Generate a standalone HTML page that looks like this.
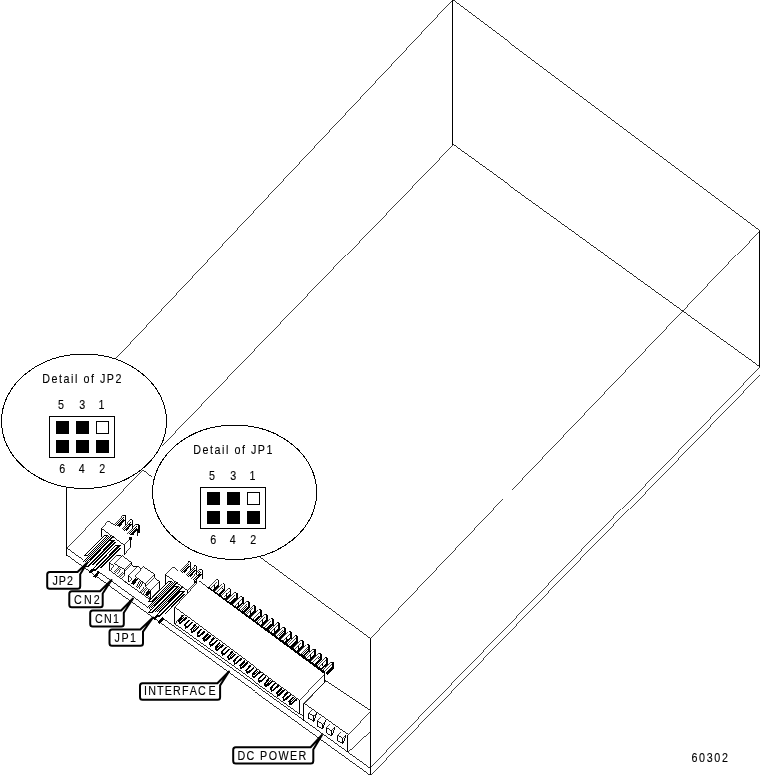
<!DOCTYPE html>
<html><head><meta charset="utf-8">
<style>
html,body{margin:0;padding:0;background:#fff;}
body{width:761px;height:775px;overflow:hidden;position:relative;font-family:"Liberation Sans",sans-serif;}
svg{position:absolute;left:0;top:0;will-change:transform;}
.l{stroke:#000;stroke-width:1;fill:none;shape-rendering:crispEdges;}
.l2{stroke:#000;stroke-width:2;fill:none;shape-rendering:crispEdges;}
.t{stroke:#000;stroke-width:1.6;fill:none;shape-rendering:crispEdges;}
.f{fill:#fff;stroke:#000;stroke-width:1;shape-rendering:crispEdges;}
.w{fill:#fff;stroke:none;shape-rendering:crispEdges;}
.k{fill:#000;stroke:none;shape-rendering:crispEdges;}
.d{fill:url(#dz);stroke:none;shape-rendering:crispEdges;}
.dt{fill:url(#dt);stroke:none;shape-rendering:crispEdges;}
.lb{fill:#fff;stroke:#000;stroke-width:2;stroke-linejoin:round;}
text{font-family:"Liberation Sans",sans-serif;fill:#000;font-size:12.5px;stroke:#000;stroke-width:0.12px;}
</style></head><body>
<svg width="761" height="775" viewBox="0 0 761 775">
<defs><pattern id="dz" width="2" height="2" patternUnits="userSpaceOnUse"><rect width="2" height="2" fill="#fff"/><rect width="1" height="1" fill="#000"/><rect x="1" y="1" width="1" height="1" fill="#000"/></pattern><pattern id="dt" width="2" height="2" patternUnits="userSpaceOnUse"><rect width="1" height="1" fill="#000"/><rect x="1" y="1" width="1" height="1" fill="#000"/></pattern></defs>

<g id="box">
<path class="l" d="M452.50 0.00 L452.50 144.50"/>
<path class="l" style="stroke-width:0.824" d="M452.50 0.00 L759.50 230.50"/>
<path class="l" d="M759.50 230.50 L759.50 366.50"/>
<path class="l" style="stroke-width:0.835" d="M759.50 366.50 L452.50 144.50"/>
<path class="l" style="stroke-width:0.751" d="M452.50 0.00 L115.50 359.00"/>
<path class="l" style="stroke-width:0.742" d="M452.50 144.50 L162.00 446.00"/>
<path class="l" style="stroke-width:0.738" d="M143.00 470.00 L66.50 548.50"/>
<path class="l" style="stroke-width:0.813" d="M143.00 470.00 L152.00 477.00"/>
<path class="l" d="M66.50 487.00 L66.50 555.50"/>
<path class="l" style="stroke-width:0.745" d="M759.50 230.50 L512.00 490.00"/>
<path class="l" style="stroke-width:0.747" d="M503.00 499.00 L370.50 638.50"/>
<path class="l" d="M370.50 638.50 L370.50 775.00"/>
<path class="l" style="stroke-width:0.829" d="M260.00 557.00 L370.50 638.50"/>
<path class="l" style="stroke-width:0.739" d="M759.50 366.50 L370.50 767.50"/>
<path class="l" style="stroke-width:0.739" d="M759.50 374.50 L370.50 775.50"/>
</g>
<g id="plate">
<path class="l" style="stroke-width:0.834" d="M66.50 548.50 L86.00 562.61"/>
<path class="l" style="stroke-width:0.834" d="M98.00 571.30 L154.00 611.82"/>
<path class="l" style="stroke-width:0.834" d="M162.00 617.61 L370.50 768.50"/>
<path class="l" style="stroke-width:0.834" d="M66.50 555.50 L370.50 775.50"/>
</g>
<g transform="translate(0,0)">
<ellipse class="f" cx="84.0" cy="421.3" rx="82.5" ry="67.2"/>
<rect class="f" x="49.5" y="416.5" width="65" height="41"/>
<rect class="k" x="56" y="421" width="13" height="13"/>
<rect class="k" x="76" y="421" width="13" height="13"/>
<rect class="f" x="96.5" y="421.5" width="12" height="12"/>
<rect class="k" x="56" y="440" width="13" height="13"/>
<rect class="k" x="76" y="440" width="13" height="13"/>
<rect class="k" x="96" y="440" width="13" height="13"/>
<text transform="scale(0.860,1)" x="49.19" y="383.00" font-size="12.80" letter-spacing="1.773">Detail of JP2</text>
<text transform="scale(0.860,1)" x="67.49" y="409.00" font-size="12.80" letter-spacing="0.000">5</text>
<text transform="scale(0.860,1)" x="92.02" y="409.00" font-size="12.80" letter-spacing="0.000">3</text>
<text transform="scale(0.860,1)" x="114.58" y="409.00" font-size="12.80" letter-spacing="0.000">1</text>
<text transform="scale(0.860,1)" x="69.00" y="473.00" font-size="12.80" letter-spacing="0.000">6</text>
<text transform="scale(0.860,1)" x="91.56" y="473.00" font-size="12.80" letter-spacing="0.000">4</text>
<text transform="scale(0.860,1)" x="115.28" y="473.00" font-size="12.80" letter-spacing="0.000">2</text>
</g>
<g transform="translate(151,71)">
<ellipse class="f" cx="83.6" cy="421.3" rx="82.1" ry="67.2"/>
<rect class="f" x="49.5" y="416.5" width="65" height="41"/>
<rect class="k" x="56" y="421" width="13" height="13"/>
<rect class="k" x="76" y="421" width="13" height="13"/>
<rect class="f" x="96.5" y="421.5" width="12" height="12"/>
<rect class="k" x="56" y="440" width="13" height="13"/>
<rect class="k" x="76" y="440" width="13" height="13"/>
<rect class="k" x="96" y="440" width="13" height="13"/>
<text transform="scale(0.860,1)" x="49.19" y="383.00" font-size="12.80" letter-spacing="1.773">Detail of JP1</text>
<text transform="scale(0.860,1)" x="67.49" y="409.00" font-size="12.80" letter-spacing="0.000">5</text>
<text transform="scale(0.860,1)" x="92.02" y="409.00" font-size="12.80" letter-spacing="0.000">3</text>
<text transform="scale(0.860,1)" x="114.58" y="409.00" font-size="12.80" letter-spacing="0.000">1</text>
<text transform="scale(0.860,1)" x="69.00" y="473.00" font-size="12.80" letter-spacing="0.000">6</text>
<text transform="scale(0.860,1)" x="91.56" y="473.00" font-size="12.80" letter-spacing="0.000">4</text>
<text transform="scale(0.860,1)" x="115.28" y="473.00" font-size="12.80" letter-spacing="0.000">2</text>
</g>
<g>
<path class="dt" d="M115.30 525.40 L123.50 516.60 L124.40 518.50 L117.70 527.40 Z" />
<path class="l" style="stroke-width:0.747" d="M113.90 525.00 L123.10 515.30"/>
<path class="l" style="stroke-width:0.995" d="M123.10 515.30 L125.70 516.00"/>
<rect class="k" x="125.0" y="515.9" width="1.3" height="8.8"/>
<path class="k" d="M123.50 519.30 L125.10 520.30 L119.70 526.70 L117.90 525.90 Z" />
<path class="dt" d="M122.10 529.60 L130.30 520.80 L131.20 522.70 L124.50 531.60 Z" />
<path class="l" style="stroke-width:0.747" d="M120.70 529.20 L129.90 519.50"/>
<path class="l" style="stroke-width:0.995" d="M129.90 519.50 L132.50 520.20"/>
<rect class="k" x="131.8" y="520.1" width="1.3" height="8.8"/>
<path class="k" d="M130.30 523.50 L131.90 524.50 L126.50 530.90 L124.70 530.10 Z" />
<path class="dt" d="M128.50 534.10 L136.70 525.30 L137.60 527.20 L130.90 536.10 Z" />
<path class="l" style="stroke-width:0.747" d="M127.10 533.70 L136.30 524.00"/>
<path class="l" style="stroke-width:0.995" d="M136.30 524.00 L138.90 524.70"/>
<rect class="k" x="138.2" y="524.6" width="1.3" height="8.8"/>
<path class="k" d="M136.70 528.00 L138.30 529.00 L132.90 535.40 L131.10 534.60 Z" />
<rect class="k" x="136.5" y="530.0" width="1" height="5.5"/>
<path class="l" style="stroke-width:0.743" d="M101.30 528.40 L108.40 521.00"/>
<path class="l" style="stroke-width:0.833" d="M108.40 521.00 L113.90 525.00"/>
<path class="l" style="stroke-width:0.834" d="M101.30 528.40 L124.20 545.00"/>
<path class="l" d="M101.30 528.40 L101.30 537.40"/>
<path class="l" style="stroke-width:0.760" d="M124.20 545.00 L130.70 537.90"/>
<path class="l" d="M130.70 537.90 L130.70 547.40"/>
<path class="l" style="stroke-width:0.760" d="M130.70 547.40 L124.20 554.50"/>
<path class="l" d="M124.20 554.50 L124.20 545.00"/>
<rect class="k" x="129.4" y="537.3" width="3" height="3"/>
</g>
<path class="k" d="M104.30 534.70 L108.70 534.70 L87.62 556.20 L83.22 556.20 Z" />
<path class="w" d="M104.52 535.70 L106.32 535.70 L87.20 555.20 L85.40 555.20 Z" />
<path class="d" d="M107.23 536.20 L113.63 536.20 L88.14 562.20 L81.74 562.20 Z" />
<path class="k" d="M112.63 536.20 L113.83 536.20 L90.30 560.20 L89.10 560.20 Z" />
<path class="k" d="M110.10 539.50 L115.50 539.50 L89.03 566.50 L83.63 566.50 Z" />
<path class="w" d="M110.32 540.50 L112.32 540.50 L87.81 565.50 L85.81 565.50 Z" />
<path class="k" d="M114.45 542.00 L116.25 542.00 L94.19 564.50 L92.39 564.50 Z" />
<path class="k" d="M116.10 544.50 L121.50 544.50 L96.01 570.50 L90.61 570.50 Z" />
<path class="w" d="M116.32 545.50 L118.32 545.50 L94.79 569.50 L92.79 569.50 Z" />
<path class="k" d="M119.96 547.50 L121.56 547.50 L101.95 567.50 L100.35 567.50 Z" />
<path class="k" d="M93.30 568.00 L95.70 569.20 L90.70 573.60 L88.30 572.00 Z" />
<path class="k" d="M97.90 570.80 L100.30 572.20 L95.70 578.00 L93.30 576.60 Z" />
<g>
<path class="dt" d="M180.20 571.60 L188.40 562.80 L189.30 564.70 L182.60 573.60 Z" />
<path class="l" style="stroke-width:0.747" d="M178.80 571.20 L188.00 561.50"/>
<path class="l" style="stroke-width:0.995" d="M188.00 561.50 L190.60 562.20"/>
<rect class="k" x="189.9" y="562.1" width="1.3" height="8.8"/>
<path class="k" d="M188.40 565.50 L190.00 566.50 L184.60 572.90 L182.80 572.10 Z" />
<path class="dt" d="M186.20 575.60 L194.40 566.80 L195.30 568.70 L188.60 577.60 Z" />
<path class="l" style="stroke-width:0.747" d="M184.80 575.20 L194.00 565.50"/>
<path class="l" style="stroke-width:0.995" d="M194.00 565.50 L196.60 566.20"/>
<rect class="k" x="195.9" y="566.1" width="1.3" height="8.8"/>
<path class="k" d="M194.40 569.50 L196.00 570.50 L190.60 576.90 L188.80 576.10 Z" />
<path class="dt" d="M192.00 579.50 L200.20 570.70 L201.10 572.60 L194.40 581.50 Z" />
<path class="l" style="stroke-width:0.747" d="M190.60 579.10 L199.80 569.40"/>
<path class="l" style="stroke-width:0.995" d="M199.80 569.40 L202.40 570.10"/>
<rect class="k" x="201.7" y="570.0" width="1.3" height="8.8"/>
<path class="k" d="M200.20 573.40 L201.80 574.40 L196.40 580.80 L194.60 580.00 Z" />
<path class="l" style="stroke-width:0.743" d="M165.40 574.60 L172.50 567.20"/>
<path class="l" style="stroke-width:0.833" d="M172.50 567.20 L178.00 571.20"/>
<path class="l" style="stroke-width:0.835" d="M165.40 574.60 L187.30 590.40"/>
<path class="l" d="M165.40 574.60 L165.40 583.60"/>
<path class="l" style="stroke-width:0.752" d="M196.50 581.80 L187.30 590.40"/>
<path class="l" d="M187.30 590.40 L187.30 593.40"/>
<path class="l" style="stroke-width:0.739" d="M187.80 592.80 L197.50 582.80"/>
<rect class="k" x="194.0" y="581.3" width="2.5" height="2"/>
</g>
<path class="k" d="M168.40 580.90 L172.80 580.90 L151.72 602.40 L147.32 602.40 Z" />
<path class="w" d="M168.62 581.90 L170.42 581.90 L151.30 601.40 L149.50 601.40 Z" />
<path class="d" d="M171.33 582.40 L177.73 582.40 L152.24 608.40 L145.84 608.40 Z" />
<path class="k" d="M176.73 582.40 L177.93 582.40 L154.40 606.40 L153.20 606.40 Z" />
<path class="k" d="M174.20 585.70 L179.60 585.70 L153.13 612.70 L147.73 612.70 Z" />
<path class="w" d="M174.42 586.70 L176.42 586.70 L151.91 611.70 L149.91 611.70 Z" />
<path class="d" d="M178.13 587.20 L183.53 587.20 L159.51 611.70 L154.11 611.70 Z" />
<path class="k" d="M182.53 587.20 L183.73 587.20 L160.69 610.70 L159.49 610.70 Z" />
<path class="k" d="M180.20 590.70 L185.60 590.70 L160.11 616.70 L154.71 616.70 Z" />
<path class="w" d="M180.42 591.70 L182.42 591.70 L158.89 615.70 L156.89 615.70 Z" />
<path class="k" d="M184.06 593.70 L185.66 593.70 L166.05 613.70 L164.45 613.70 Z" />
<path class="k" d="M157.40 614.20 L159.80 615.40 L154.80 619.80 L152.40 618.20 Z" />
<path class="k" d="M162.00 617.00 L164.40 618.40 L159.80 624.20 L157.40 622.80 Z" />
<g id="cn">
<path class="l" d="M109.47 570.23 L109.47 562.09"/>
<path class="l" style="stroke-width:0.766" d="M109.47 562.09 L117.35 554.99"/>
<path class="l" style="stroke-width:0.982" d="M117.35 554.99 L122.34 556.57"/>
<path class="l" style="stroke-width:0.849" d="M109.47 562.61 L113.67 565.50"/>
<path class="l" style="stroke-width:0.791" d="M113.67 565.50 L109.73 570.23"/>
<path class="l" style="stroke-width:0.728" d="M114.46 563.66 L122.34 555.78"/>
<path class="l" style="stroke-width:0.830" d="M122.34 555.78 L131.27 562.35"/>
<path class="l" d="M131.27 562.35 L131.27 565.24"/>
<path class="l" style="stroke-width:0.744" d="M131.27 565.24 L125.23 571.02"/>
<path class="l" style="stroke-width:0.768" d="M131.27 562.35 L124.71 569.71"/>
<path class="l" d="M124.71 569.71 L124.71 573.65"/>
<path class="l" style="stroke-width:0.887" d="M114.46 563.66 L124.71 569.71"/>
<path class="l" style="stroke-width:0.764" d="M118.90 566.60 L114.20 571.80"/>
<path class="l" style="stroke-width:0.764" d="M120.30 567.60 L115.60 572.80"/>
<path class="l" style="stroke-width:0.764" d="M121.70 568.60 L117.00 573.80"/>
<path class="l" style="stroke-width:0.763" d="M122.70 571.90 L118.80 576.20"/>
<path class="l" style="stroke-width:0.763" d="M124.10 572.90 L120.20 577.20"/>
<path class="l" style="stroke-width:0.763" d="M125.50 573.90 L121.60 578.20"/>
<path class="l" style="stroke-width:0.833" d="M109.47 570.23 L128.65 584.16"/>
<path class="l" d="M131.57 565.91 L137.48 566.24"/>
<path class="l" style="stroke-width:0.869" d="M137.48 566.24 L141.10 568.54"/>
<path class="l" style="stroke-width:0.741" d="M137.48 566.24 L128.29 575.77"/>
<path class="l" d="M128.29 575.77 L128.29 581.68"/>
<path class="l" style="stroke-width:0.762" d="M128.29 575.77 L131.90 579.05"/>
<path class="l" style="stroke-width:0.766" d="M131.90 579.05 L128.94 582.34"/>
<path class="l" style="stroke-width:0.755" d="M143.40 566.90 L134.86 576.10"/>
<path class="l" style="stroke-width:0.824" d="M134.86 576.10 L145.37 583.98"/>
<path class="l" d="M145.37 583.98 L145.37 586.28"/>
<path class="l" style="stroke-width:0.775" d="M145.37 586.28 L150.62 590.88"/>
<path class="l" d="M150.62 590.88 L150.62 599.42"/>
<path class="l" style="stroke-width:0.865" d="M143.40 566.90 L154.57 574.13"/>
<path class="l" d="M154.57 574.13 L154.57 577.41"/>
<path class="l" style="stroke-width:0.728" d="M154.57 577.41 L146.02 585.95"/>
<path class="l" style="stroke-width:0.753" d="M154.57 574.13 L145.37 583.98"/>
<path class="l" style="stroke-width:0.898" d="M154.57 578.40 L159.82 581.35"/>
<path class="l" d="M159.82 581.35 L159.82 588.91"/>
<path class="l" style="stroke-width:0.766" d="M159.82 588.91 L150.95 598.76"/>
<path class="l" style="stroke-width:0.741" d="M159.82 581.35 L150.62 590.88"/>
<path class="l" style="stroke-width:0.883" d="M150.62 590.88 L147.67 595.81"/>
<path class="l" style="stroke-width:0.797" d="M147.67 595.81 L150.62 599.42"/>
<path class="l" style="stroke-width:0.837" d="M125.00 581.68 L150.62 600.08"/>
<path class="k" d="M135.20 577.60 L137.80 579.47 L133.80 585.27 L131.20 583.40 Z" />
<path class="l" style="stroke-width:0.883" d="M140.10 580.40 L136.20 586.90"/>
<path class="l" style="stroke-width:0.883" d="M141.50 581.40 L137.60 587.90"/>
<path class="l" style="stroke-width:0.883" d="M142.90 582.40 L139.00 588.90"/>
<path class="l" style="stroke-width:0.774" d="M144.70 586.60 L140.40 591.50"/>
<path class="l" style="stroke-width:0.774" d="M146.10 587.60 L141.80 592.50"/>
<path class="l" style="stroke-width:0.774" d="M147.50 588.60 L143.20 593.50"/>
<path class="k" d="M148.30 590.20 L150.70 591.93 L147.00 596.33 L144.60 594.60 Z" />
</g>
<g id="iface">
<path class="l" style="stroke-width:0.829" d="M198.50 581.20 L208.00 588.20"/>
<path class="k" d="M207.00 587.40 L208.60 586.80 L324.50 671.00 L324.50 674.30 L322.60 672.60 Z" />
<path class="l" style="stroke-width:0.728" d="M208.20 587.70 L216.50 579.40"/>
<path class="l" d="M216.50 579.40 L218.40 579.40"/>
<path class="l" style="stroke-width:0.728" d="M210.80 588.30 L217.30 581.80"/>
<rect class="k" x="217.8" y="579.8" width="1.6" height="6.6"/>
<path class="k" d="M217.80 584.80 L219.40 586.00 L213.30 592.00 L211.70 590.80 Z" />
<path class="l" d="M214.30 584.60 L214.30 588.00"/>
<path class="l" style="stroke-width:0.728" d="M214.22 592.05 L222.52 583.75"/>
<path class="l" d="M222.52 583.75 L224.42 583.75"/>
<path class="l" style="stroke-width:0.728" d="M216.82 592.65 L223.32 586.15"/>
<rect class="k" x="223.8" y="584.1" width="1.6" height="6.6"/>
<path class="k" d="M223.82 589.15 L225.42 590.35 L219.32 596.35 L217.72 595.15 Z" />
<path class="dt" d="M218.02 593.45 L223.32 587.55 L223.32 589.75 L218.12 594.75 Z" />
<path class="l" style="stroke-width:0.728" d="M220.24 596.40 L228.54 588.10"/>
<path class="l" d="M228.54 588.10 L230.44 588.10"/>
<path class="l" style="stroke-width:0.728" d="M222.84 597.00 L229.34 590.50"/>
<rect class="k" x="229.8" y="588.5" width="1.6" height="6.6"/>
<path class="k" d="M229.84 593.50 L231.44 594.70 L225.34 600.70 L223.74 599.50 Z" />
<path class="l" d="M226.34 593.30 L226.34 596.70"/>
<path class="l" style="stroke-width:0.728" d="M226.26 600.75 L234.56 592.45"/>
<path class="l" d="M234.56 592.45 L236.46 592.45"/>
<path class="l" style="stroke-width:0.728" d="M228.86 601.35 L235.36 594.85"/>
<rect class="k" x="235.9" y="592.8" width="1.6" height="6.6"/>
<path class="k" d="M235.86 597.85 L237.46 599.05 L231.36 605.05 L229.76 603.85 Z" />
<path class="dt" d="M230.06 602.15 L235.36 596.25 L235.36 598.45 L230.16 603.45 Z" />
<path class="l" style="stroke-width:0.728" d="M232.28 605.10 L240.58 596.80"/>
<path class="l" d="M240.58 596.80 L242.48 596.80"/>
<path class="l" style="stroke-width:0.728" d="M234.88 605.70 L241.38 599.20"/>
<rect class="k" x="241.9" y="597.2" width="1.6" height="6.6"/>
<path class="k" d="M241.88 602.20 L243.48 603.40 L237.38 609.40 L235.78 608.20 Z" />
<path class="l" d="M238.38 602.00 L238.38 605.40"/>
<path class="l" style="stroke-width:0.728" d="M238.30 609.45 L246.60 601.15"/>
<path class="l" d="M246.60 601.15 L248.50 601.15"/>
<path class="l" style="stroke-width:0.728" d="M240.90 610.05 L247.40 603.55"/>
<rect class="k" x="247.9" y="601.5" width="1.6" height="6.6"/>
<path class="k" d="M247.90 606.55 L249.50 607.75 L243.40 613.75 L241.80 612.55 Z" />
<path class="dt" d="M242.10 610.85 L247.40 604.95 L247.40 607.15 L242.20 612.15 Z" />
<path class="l" style="stroke-width:0.728" d="M244.32 613.80 L252.62 605.50"/>
<path class="l" d="M252.62 605.50 L254.52 605.50"/>
<path class="l" style="stroke-width:0.728" d="M246.92 614.40 L253.42 607.90"/>
<rect class="k" x="253.9" y="605.9" width="1.6" height="6.6"/>
<path class="k" d="M253.92 610.90 L255.52 612.10 L249.42 618.10 L247.82 616.90 Z" />
<path class="l" d="M250.42 610.70 L250.42 614.10"/>
<path class="l" style="stroke-width:0.728" d="M250.34 618.15 L258.64 609.85"/>
<path class="l" d="M258.64 609.85 L260.54 609.85"/>
<path class="l" style="stroke-width:0.728" d="M252.94 618.75 L259.44 612.25"/>
<rect class="k" x="259.9" y="610.2" width="1.6" height="6.6"/>
<path class="k" d="M259.94 615.25 L261.54 616.45 L255.44 622.45 L253.84 621.25 Z" />
<path class="dt" d="M254.14 619.55 L259.44 613.65 L259.44 615.85 L254.24 620.85 Z" />
<path class="l" style="stroke-width:0.728" d="M256.36 622.50 L264.66 614.20"/>
<path class="l" d="M264.66 614.20 L266.56 614.20"/>
<path class="l" style="stroke-width:0.728" d="M258.96 623.10 L265.46 616.60"/>
<rect class="k" x="266.0" y="614.6" width="1.6" height="6.6"/>
<path class="k" d="M265.96 619.60 L267.56 620.80 L261.46 626.80 L259.86 625.60 Z" />
<path class="l" d="M262.46 619.40 L262.46 622.80"/>
<path class="l" style="stroke-width:0.728" d="M262.38 626.85 L270.68 618.55"/>
<path class="l" d="M270.68 618.55 L272.58 618.55"/>
<path class="l" style="stroke-width:0.728" d="M264.98 627.45 L271.48 620.95"/>
<rect class="k" x="272.0" y="618.9" width="1.6" height="6.6"/>
<path class="k" d="M271.98 623.95 L273.58 625.15 L267.48 631.15 L265.88 629.95 Z" />
<path class="dt" d="M266.18 628.25 L271.48 622.35 L271.48 624.55 L266.28 629.55 Z" />
<path class="l" style="stroke-width:0.728" d="M268.40 631.20 L276.70 622.90"/>
<path class="l" d="M276.70 622.90 L278.60 622.90"/>
<path class="l" style="stroke-width:0.728" d="M271.00 631.80 L277.50 625.30"/>
<rect class="k" x="278.0" y="623.3" width="1.6" height="6.6"/>
<path class="k" d="M278.00 628.30 L279.60 629.50 L273.50 635.50 L271.90 634.30 Z" />
<path class="l" d="M274.50 628.10 L274.50 631.50"/>
<path class="l" style="stroke-width:0.728" d="M274.42 635.55 L282.72 627.25"/>
<path class="l" d="M282.72 627.25 L284.62 627.25"/>
<path class="l" style="stroke-width:0.728" d="M277.02 636.15 L283.52 629.65"/>
<rect class="k" x="284.0" y="627.6" width="1.6" height="6.6"/>
<path class="k" d="M284.02 632.65 L285.62 633.85 L279.52 639.85 L277.92 638.65 Z" />
<path class="dt" d="M278.22 636.95 L283.52 631.05 L283.52 633.25 L278.32 638.25 Z" />
<path class="l" style="stroke-width:0.728" d="M280.44 639.90 L288.74 631.60"/>
<path class="l" d="M288.74 631.60 L290.64 631.60"/>
<path class="l" style="stroke-width:0.728" d="M283.04 640.50 L289.54 634.00"/>
<rect class="k" x="290.0" y="632.0" width="1.6" height="6.6"/>
<path class="k" d="M290.04 637.00 L291.64 638.20 L285.54 644.20 L283.94 643.00 Z" />
<path class="l" d="M286.54 636.80 L286.54 640.20"/>
<path class="l" style="stroke-width:0.728" d="M286.46 644.25 L294.76 635.95"/>
<path class="l" d="M294.76 635.95 L296.66 635.95"/>
<path class="l" style="stroke-width:0.728" d="M289.06 644.85 L295.56 638.35"/>
<rect class="k" x="296.1" y="636.3" width="1.6" height="6.6"/>
<path class="k" d="M296.06 641.35 L297.66 642.55 L291.56 648.55 L289.96 647.35 Z" />
<path class="dt" d="M290.26 645.65 L295.56 639.75 L295.56 641.95 L290.36 646.95 Z" />
<path class="l" style="stroke-width:0.728" d="M292.48 648.60 L300.78 640.30"/>
<path class="l" d="M300.78 640.30 L302.68 640.30"/>
<path class="l" style="stroke-width:0.728" d="M295.08 649.20 L301.58 642.70"/>
<rect class="k" x="302.1" y="640.7" width="1.6" height="6.6"/>
<path class="k" d="M302.08 645.70 L303.68 646.90 L297.58 652.90 L295.98 651.70 Z" />
<path class="l" d="M298.58 645.50 L298.58 648.90"/>
<path class="l" style="stroke-width:0.728" d="M298.50 652.95 L306.80 644.65"/>
<path class="l" d="M306.80 644.65 L308.70 644.65"/>
<path class="l" style="stroke-width:0.728" d="M301.10 653.55 L307.60 647.05"/>
<rect class="k" x="308.1" y="645.0" width="1.6" height="6.6"/>
<path class="k" d="M308.10 650.05 L309.70 651.25 L303.60 657.25 L302.00 656.05 Z" />
<path class="dt" d="M302.30 654.35 L307.60 648.45 L307.60 650.65 L302.40 655.65 Z" />
<path class="l" style="stroke-width:0.728" d="M304.52 657.30 L312.82 649.00"/>
<path class="l" d="M312.82 649.00 L314.72 649.00"/>
<path class="l" style="stroke-width:0.728" d="M307.12 657.90 L313.62 651.40"/>
<rect class="k" x="314.1" y="649.4" width="1.6" height="6.6"/>
<path class="k" d="M314.12 654.40 L315.72 655.60 L309.62 661.60 L308.02 660.40 Z" />
<path class="l" d="M310.62 654.20 L310.62 657.60"/>
<path class="l" style="stroke-width:0.728" d="M310.54 661.65 L318.84 653.35"/>
<path class="l" d="M318.84 653.35 L320.74 653.35"/>
<path class="l" style="stroke-width:0.728" d="M313.14 662.25 L319.64 655.75"/>
<rect class="k" x="320.1" y="653.7" width="1.6" height="6.6"/>
<path class="k" d="M320.14 658.75 L321.74 659.95 L315.64 665.95 L314.04 664.75 Z" />
<path class="dt" d="M314.34 663.05 L319.64 657.15 L319.64 659.35 L314.44 664.35 Z" />
<path class="l" style="stroke-width:0.728" d="M316.56 666.00 L324.86 657.70"/>
<path class="l" d="M324.86 657.70 L326.76 657.70"/>
<path class="l" style="stroke-width:0.728" d="M319.16 666.60 L325.66 660.10"/>
<rect class="k" x="326.2" y="658.1" width="1.6" height="6.6"/>
<path class="k" d="M326.16 663.10 L327.76 664.30 L321.66 670.30 L320.06 669.10 Z" />
<path class="l" d="M322.66 662.90 L322.66 666.30"/>
<path class="l" style="stroke-width:0.728" d="M322.58 670.35 L330.88 662.05"/>
<path class="l" d="M330.88 662.05 L332.78 662.05"/>
<path class="l" style="stroke-width:0.728" d="M325.18 670.95 L331.68 664.45"/>
<rect class="k" x="332.2" y="662.4" width="1.6" height="6.6"/>
<path class="k" d="M332.18 667.45 L333.78 668.65 L327.68 674.65 L326.08 673.45 Z" />
<path class="dt" d="M326.38 671.75 L331.68 665.85 L331.68 668.05 L326.48 673.05 Z" />
<path class="l" style="stroke-width:0.765" d="M187.30 593.40 L174.50 607.60"/>
<path class="l" style="stroke-width:0.827" d="M174.50 607.60 L299.50 700.40"/>
<path class="l" style="stroke-width:0.744" d="M299.50 700.40 L324.50 674.30"/>
<path class="l" d="M324.50 674.30 L324.50 682.00"/>
<path class="l" style="stroke-width:0.737" d="M324.50 682.00 L303.00 704.00"/>
<path class="l" d="M174.50 607.60 L174.50 624.40"/>
<path class="l" style="stroke-width:0.837" d="M174.50 624.40 L299.50 714.00"/>
<path class="l" d="M299.50 714.00 L299.50 700.40"/>
<path class="l" style="stroke-width:0.791" d="M174.50 624.40 L182.60 614.70"/>
<path class="dt" d="M183.90 616.20 L179.60 620.80 L181.80 621.80 L186.20 617.80 Z" />
<path class="t" d="M183.40 615.20 L178.80 620.40 L179.80 623.00 L181.80 622.00 L186.60 617.50" />
<path class="t" d="M189.53 619.73 L184.93 624.93 L185.93 627.53 L187.93 626.53 L192.73 622.03" />
<path class="dt" d="M196.16 625.26 L191.86 629.86 L194.06 630.86 L198.46 626.86 Z" />
<path class="t" d="M195.66 624.26 L191.06 629.46 L192.06 632.06 L194.06 631.06 L198.86 626.56" />
<path class="t" d="M201.79 628.79 L197.19 633.99 L198.19 636.59 L200.19 635.59 L204.99 631.09" />
<path class="dt" d="M208.42 634.32 L204.12 638.92 L206.32 639.92 L210.72 635.92 Z" />
<path class="t" d="M207.92 633.32 L203.32 638.52 L204.32 641.12 L206.32 640.12 L211.12 635.62" />
<path class="t" d="M214.05 637.85 L209.45 643.05 L210.45 645.65 L212.45 644.65 L217.25 640.15" />
<path class="dt" d="M220.68 643.38 L216.38 647.98 L218.58 648.98 L222.98 644.98 Z" />
<path class="t" d="M220.18 642.38 L215.58 647.58 L216.58 650.18 L218.58 649.18 L223.38 644.68" />
<path class="t" d="M226.31 646.91 L221.71 652.11 L222.71 654.71 L224.71 653.71 L229.51 649.21" />
<path class="dt" d="M232.94 652.44 L228.64 657.04 L230.84 658.04 L235.24 654.04 Z" />
<path class="t" d="M232.44 651.44 L227.84 656.64 L228.84 659.24 L230.84 658.24 L235.64 653.74" />
<path class="t" d="M238.57 655.97 L233.97 661.17 L234.97 663.77 L236.97 662.77 L241.77 658.27" />
<path class="dt" d="M245.20 661.50 L240.90 666.10 L243.10 667.10 L247.50 663.10 Z" />
<path class="t" d="M244.70 660.50 L240.10 665.70 L241.10 668.30 L243.10 667.30 L247.90 662.80" />
<path class="t" d="M250.83 665.03 L246.23 670.23 L247.23 672.83 L249.23 671.83 L254.03 667.33" />
<path class="dt" d="M257.46 670.56 L253.16 675.16 L255.36 676.16 L259.76 672.16 Z" />
<path class="t" d="M256.96 669.56 L252.36 674.76 L253.36 677.36 L255.36 676.36 L260.16 671.86" />
<path class="t" d="M263.09 674.09 L258.49 679.29 L259.49 681.89 L261.49 680.89 L266.29 676.39" />
<path class="dt" d="M269.72 679.62 L265.42 684.22 L267.62 685.22 L272.02 681.22 Z" />
<path class="t" d="M269.22 678.62 L264.62 683.82 L265.62 686.42 L267.62 685.42 L272.42 680.92" />
<path class="t" d="M275.35 683.15 L270.75 688.35 L271.75 690.95 L273.75 689.95 L278.55 685.45" />
<path class="dt" d="M281.98 688.68 L277.68 693.28 L279.88 694.28 L284.28 690.28 Z" />
<path class="t" d="M281.48 687.68 L276.88 692.88 L277.88 695.48 L279.88 694.48 L284.68 689.98" />
<path class="t" d="M287.61 692.21 L283.01 697.41 L284.01 700.01 L286.01 699.01 L290.81 694.51" />
<path class="dt" d="M294.24 697.74 L289.94 702.34 L292.14 703.34 L296.54 699.34 Z" />
<path class="t" d="M293.74 696.74 L289.14 701.94 L290.14 704.54 L292.14 703.54 L296.94 699.04" />
</g>
<g id="dc">
<path class="l" d="M303.50 721.00 L303.50 703.50"/>
<path class="l" style="stroke-width:0.748" d="M303.50 703.50 L325.30 680.50"/>
<path class="l" style="stroke-width:0.858" d="M325.30 680.50 L370.50 710.50"/>
<path class="l" style="stroke-width:0.840" d="M303.50 703.50 L347.50 734.70"/>
<path class="l" style="stroke-width:0.747" d="M347.50 734.70 L370.50 710.50"/>
<path class="l" d="M347.50 734.70 L347.50 752.00"/>
<path class="l" style="stroke-width:0.756" d="M347.50 751.80 L370.50 730.50"/>
<path class="l" style="stroke-width:0.824" d="M299.50 714.00 L303.50 717.00"/>
<path class="l" style="stroke-width:0.891" d="M308.50 713.50 L313.50 716.40"/>
<path class="l" d="M313.50 716.40 L313.50 721.50"/>
<path class="l" style="stroke-width:0.899" d="M313.50 721.50 L308.50 718.70"/>
<path class="l" d="M308.50 718.70 L308.50 713.50"/>
<path class="l" style="stroke-width:0.728" d="M308.50 713.50 L312.10 709.90"/>
<path class="l" style="stroke-width:0.739" d="M313.50 716.40 L316.80 713.00"/>
<path class="l" style="stroke-width:0.976" d="M316.80 712.90 L314.10 720.90"/>
<path class="l" style="stroke-width:0.891" d="M317.40 721.00 L322.40 723.90"/>
<path class="l" d="M322.40 723.90 L322.40 729.00"/>
<path class="l" style="stroke-width:0.899" d="M322.40 729.00 L317.40 726.20"/>
<path class="l" d="M317.40 726.20 L317.40 721.00"/>
<path class="l" style="stroke-width:0.728" d="M317.40 721.00 L321.00 717.40"/>
<path class="l" style="stroke-width:0.739" d="M322.40 723.90 L325.70 720.50"/>
<path class="l" style="stroke-width:0.976" d="M325.70 720.40 L323.00 728.40"/>
<path class="l" style="stroke-width:0.891" d="M326.60 727.90 L331.60 730.80"/>
<path class="l" d="M331.60 730.80 L331.60 735.90"/>
<path class="l" style="stroke-width:0.899" d="M331.60 735.90 L326.60 733.10"/>
<path class="l" d="M326.60 733.10 L326.60 727.90"/>
<path class="l" style="stroke-width:0.728" d="M326.60 727.90 L330.20 724.30"/>
<path class="l" style="stroke-width:0.739" d="M331.60 730.80 L334.90 727.40"/>
<path class="l" style="stroke-width:0.976" d="M334.90 727.30 L332.20 735.30"/>
<path class="l" style="stroke-width:0.891" d="M337.50 735.80 L342.50 738.70"/>
<path class="l" d="M342.50 738.70 L342.50 743.80"/>
<path class="l" style="stroke-width:0.899" d="M342.50 743.80 L337.50 741.00"/>
<path class="l" d="M337.50 741.00 L337.50 735.80"/>
<path class="l" style="stroke-width:0.728" d="M337.50 735.80 L341.10 732.20"/>
<path class="l" style="stroke-width:0.739" d="M342.50 738.70 L345.80 735.30"/>
<path class="l" style="stroke-width:0.976" d="M345.80 735.20 L343.10 743.20"/>
</g>
<path class="lb" d="M49.7 572.0 H77.5 L87.0 563.0 L80.2 574.2 V586.3 Q80.2 588.8 77.7 588.8 H49.7 Q47.2 588.8 47.2 586.3 V574.5 Q47.2 572.0 49.7 572.0 Z"/>
<text transform="scale(0.860,1)" x="61.16" y="585.00" font-size="12.80" letter-spacing="1.066">JP2</text>
<path class="lb" d="M71.8 591.3 H100.0 L111.5 580.0 L102.7 593.5 V604.8 Q102.7 607.3 100.2 607.3 H71.8 Q69.3 607.3 69.3 604.8 V593.8 Q69.3 591.3 71.8 591.3 Z"/>
<text transform="scale(0.860,1)" x="86.16" y="603.70" font-size="12.80" letter-spacing="2.488">CN2</text>
<path class="lb" d="M92.7 610.5 H121.1 L133.0 598.5 L123.8 612.7 V624.0 Q123.8 626.5 121.3 626.5 H92.7 Q90.2 626.5 90.2 624.0 V613.0 Q90.2 610.5 92.7 610.5 Z"/>
<text transform="scale(0.860,1)" x="110.58" y="622.70" font-size="12.80" letter-spacing="1.326">CN1</text>
<path class="lb" d="M112.0 629.5 H140.3 L153.0 617.5 L143.0 631.7 V643.3 Q143.0 645.8 140.5 645.8 H112.0 Q109.5 645.8 109.5 643.3 V632.0 Q109.5 629.5 112.0 629.5 Z"/>
<text transform="scale(0.860,1)" x="133.26" y="642.00" font-size="12.80" letter-spacing="1.647">JP1</text>
<path class="lb" d="M142.5 683.2 H217.4 L229.0 671.5 L220.1 685.4 V697.2 Q220.1 699.7 217.6 699.7 H142.5 Q140.0 699.7 140.0 697.2 V685.7 Q140.0 683.2 142.5 683.2 Z"/>
<text transform="scale(0.860,1)" x="167.56 172.25 182.64 191.60 201.27 211.66 220.62 230.29 242.44" y="694.90" font-size="12.80">INTERFACE</text>
<path class="lb" d="M235.7 747.2 H310.6 L322.0 735.0 L313.3 749.4 V761.0 Q313.3 763.5 310.8 763.5 H235.7 Q233.2 763.5 233.2 761.0 V749.7 Q233.2 747.2 235.7 747.2 Z"/>
<text transform="scale(0.860,1)" x="276.05" y="759.80" font-size="12.80" letter-spacing="1.637">DC POWER</text>
<text transform="scale(0.860,1)" x="803.95" y="762.00" font-size="12.50" letter-spacing="1.921">60302</text>
</svg>
</body></html>
